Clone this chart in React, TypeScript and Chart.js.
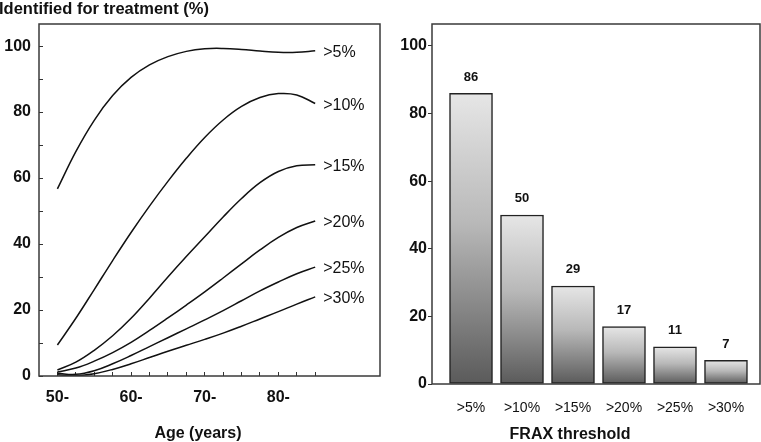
import { useEffect, useRef } from 'react';
import { Chart, registerables } from 'chart.js';

Chart.register(...registerables);

// ---- Left panel data (proportion identified for treatment by age) ----
const ages = [50, 52.5, 55, 57.5, 60, 62.5, 65, 67.5, 70, 72.5, 75, 77.5, 80, 82.5, 85];
const curveLabels = ['>5%', '>10%', '>15%', '>20%', '>25%', '>30%'];
const over5 = [56.7, 68, 77.5, 85, 90.5, 94.3, 96.8, 98.4, 99.2, 99.3, 99, 98.5, 98.1, 98.1, 98.6];
const over10 = [9.4, 17.5, 26.2, 35, 43.5, 51.5, 59, 66, 72.3, 77.6, 81.7, 84.4, 85.6, 85.2, 82.6];
const over15 = [1.8, 4.2, 7.8, 12.2, 17.5, 23.6, 30, 36.2, 42.2, 48.2, 53.8, 58.6, 62, 63.7, 64];
const over20 = [1.2, 2.4, 4.5, 7.1, 10.2, 13.8, 17.6, 21.5, 25.5, 29.7, 34, 38.2, 42, 45, 47];
const over25 = [0.8, 0.5, 1.6, 3.7, 6.2, 8.9, 11.6, 14.3, 17, 19.8, 22.8, 25.8, 28.5, 31, 33];
const over30 = [0.4, 0.1, 0.7, 2, 3.7, 5.6, 7.5, 9.3, 11.1, 13, 15.1, 17.3, 19.5, 21.8, 24];
const curveSeries = [over5, over10, over15, over20, over25, over30];
const ageTicks = [50, 52.5, 55, 57.5, 60, 62.5, 65, 67.5, 70, 72.5, 75, 77.5, 80, 82.5, 85];
const ageLabelTicks = [50, 60, 70, 80];
const leftYTicks = [0, 10, 20, 30, 40, 50, 60, 70, 80, 90, 100];

// ---- Right panel data (bars) ----
const thresholds = ['>5%', '>10%', '>15%', '>20%', '>25%', '>30%'];
const identified = [86, 50, 29, 17, 11, 7];
const barPositions = [1, 2, 3, 4, 5, 6];
const rightYTicks = [0, 20, 40, 60, 80, 100];

const FONT = '"Liberation Sans", Arial, Helvetica, sans-serif';
const INK = '#111';

const boxPlugin = {
  id: 'box',
  afterDatasetsDraw(chart: any) {
    const { ctx, chartArea: a } = chart;
    ctx.save();
    ctx.strokeStyle = '#3a3a3a';
    ctx.lineWidth = 1.5;
    ctx.strokeRect(a.left, a.top, a.right - a.left, a.bottom - a.top);
    ctx.restore();
  },
};

const leftTextPlugin = {
  id: 'leftText',
  afterDatasetsDraw(chart: any) {
    const ctx = chart.ctx;
    ctx.save();
    ctx.fillStyle = INK;
    ctx.font = `16px ${FONT}`;
    ctx.textAlign = 'left';
    ctx.textBaseline = 'alphabetic';
    chart.data.datasets.forEach((ds: any, i: number) => {
      const meta = chart.getDatasetMeta(i);
      const pt = meta.data[meta.data.length - 1];
      if (pt) ctx.fillText(ds.label, pt.x + 8, pt.y + 6);
    });
    ctx.font = `bold 16.5px ${FONT}`;
    ctx.fillText('Identified for treatment (%)', -1, 14);
    ctx.textAlign = 'center';
    ctx.font = `bold 16px ${FONT}`;
    ctx.fillText('Age (years)', 198, 438);
    ctx.restore();
  },
};

const rightTextPlugin = {
  id: 'rightText',
  afterDatasetsDraw(chart: any) {
    const ctx = chart.ctx;
    ctx.save();
    ctx.fillStyle = INK;
    ctx.font = `bold 13px ${FONT}`;
    ctx.textAlign = 'center';
    ctx.textBaseline = 'alphabetic';
    const meta = chart.getDatasetMeta(0);
    meta.data.forEach((el: any, i: number) => {
      ctx.fillText(String(identified[i]), el.x, el.y - 12.5);
    });
    ctx.font = `bold 16px ${FONT}`;
    ctx.fillText('FRAX threshold', 189, 439);
    ctx.restore();
  },
};

function LeftChart() {
  const ref = useRef<HTMLCanvasElement | null>(null);
  useEffect(() => {
    if (!ref.current) return;
    const chart = new Chart(ref.current, {
      type: 'line',
      data: {
        datasets: curveSeries.map((s, i) => ({
          label: curveLabels[i],
          data: ages.map((a, j) => ({ x: a, y: s[j] })),
          borderColor: INK,
          borderWidth: 1.5,
          pointRadius: 0,
          fill: false,
          tension: 0.4,
        })),
      },
      options: {
        animation: false,
        responsive: false,
        layout: { padding: { top: 24, right: 1, left: 0, bottom: 0 } },
        plugins: { legend: { display: false }, tooltip: { enabled: false }, title: { display: false } },
        scales: {
          x: {
            type: 'linear',
            min: 47.5,
            max: 93.8,
            afterBuildTicks: (scale: any) => {
              scale.ticks = ageTicks.map((v) => ({ value: v }));
            },
            afterFit: (scale: any) => {
              scale.height = 66;
            },
            ticks: {
              autoSkip: false,
              maxRotation: 0,
              padding: 16,
              color: INK,
              font: { family: FONT, size: 16, weight: 'bold' },
              callback: (v: any) => (ageLabelTicks.includes(Number(v)) ? `${v}-` : ''),
            },
            grid: { drawOnChartArea: false, drawTicks: true, tickLength: -4, color: '#333', lineWidth: 1 },
            border: { display: false },
          },
          y: {
            type: 'linear',
            min: 0,
            max: 106.7,
            afterBuildTicks: (scale: any) => {
              scale.ticks = leftYTicks.map((v) => ({ value: v }));
            },
            afterFit: (scale: any) => {
              scale.width = 39;
            },
            ticks: {
              autoSkip: false,
              padding: 12,
              color: INK,
              font: { family: FONT, size: 16, weight: 'bold' },
              callback: (v: any) => (Number(v) % 20 === 0 ? String(v) : ''),
            },
            grid: { drawOnChartArea: false, drawTicks: true, tickLength: -4, color: '#333', lineWidth: 1 },
            border: { display: false },
          },
        },
      },
      plugins: [boxPlugin, leftTextPlugin],
    } as any);
    return () => chart.destroy();
  }, []);
  return (
    <canvas
      ref={ref}
      width={381}
      height={442}
      style={{ position: 'absolute', left: 0, top: 0, width: 381, height: 442, display: 'block' }}
    />
  );
}

function RightChart() {
  const ref = useRef<HTMLCanvasElement | null>(null);
  useEffect(() => {
    if (!ref.current) return;
    const chart = new Chart(ref.current, {
      type: 'bar',
      data: {
        datasets: [
          {
            label: 'Identified',
            data: barPositions.map((p, i) => ({ x: p, y: identified[i] })),
            barThickness: 43,
            borderColor: '#222',
            borderWidth: 1.5,
            borderSkipped: false,
            backgroundColor: (c: any) => {
              const ch = c.chart;
              if (!ch.chartArea || c.type !== 'data' || !c.raw) return '#999';
              const ys = ch.scales.y;
              const top = ys.getPixelForValue(c.raw.y);
              const bot = ys.getPixelForValue(0);
              const g = ch.ctx.createLinearGradient(0, top, 0, bot);
              g.addColorStop(0, '#e6e6e6');
              g.addColorStop(0.45, '#b8b8b8');
              g.addColorStop(1, '#5a5a5a');
              return g;
            },
          },
        ],
      },
      options: {
        animation: false,
        responsive: false,
        layout: { padding: { top: 24, right: 1, left: 0, bottom: 0 } },
        plugins: { legend: { display: false }, tooltip: { enabled: false }, title: { display: false } },
        scales: {
          x: {
            type: 'linear',
            min: 0.235,
            max: 6.667,
            offset: false,
            afterBuildTicks: (scale: any) => {
              scale.ticks = barPositions.map((v) => ({ value: v }));
            },
            afterFit: (scale: any) => {
              scale.height = 58;
            },
            ticks: {
              autoSkip: false,
              maxRotation: 0,
              padding: 16,
              color: INK,
              font: { family: FONT, size: 14 },
              callback: (v: any) => thresholds[barPositions.indexOf(Number(v))] ?? '',
            },
            grid: { display: false, drawTicks: false },
            border: { display: false },
          },
          y: {
            type: 'linear',
            min: 0,
            max: 106.5,
            afterBuildTicks: (scale: any) => {
              scale.ticks = rightYTicks.map((v) => ({ value: v }));
            },
            afterFit: (scale: any) => {
              scale.width = 51;
            },
            ticks: {
              autoSkip: false,
              padding: 1,
              color: INK,
              font: { family: FONT, size: 16, weight: 'bold' },
            },
            grid: { drawOnChartArea: false, drawTicks: true, tickLength: 4, color: '#333', lineWidth: 1 },
            border: { display: false },
          },
        },
      },
      plugins: [boxPlugin, rightTextPlugin],
    } as any);
    return () => chart.destroy();
  }, []);
  return (
    <canvas
      ref={ref}
      width={380}
      height={442}
      style={{ position: 'absolute', left: 381, top: 0, width: 380, height: 442, display: 'block' }}
    />
  );
}

export default function App() {
  return (
    <div style={{ position: 'fixed', left: 0, top: 0, width: 761, height: 442, background: '#fff', overflow: 'hidden' }}>
      <LeftChart />
      <RightChart />
    </div>
  );
}
